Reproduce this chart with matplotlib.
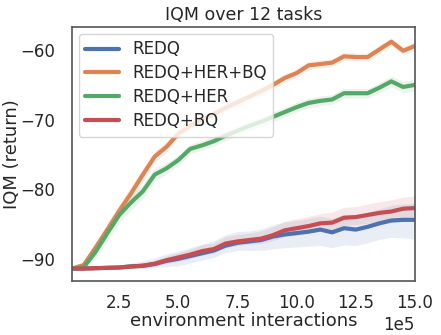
import numpy as np
import matplotlib
matplotlib.use("Agg")
import matplotlib.pyplot as plt
import matplotlib.ticker as mticker
import seaborn as sns

sns.set_theme(style="white")
plt.rcParams['font.family'] = ['DejaVu Sans']

steps = [0.5e5, 1.0e5, 1.5e5, 2.0e5, 2.5e5, 3.0e5, 3.5e5, 4.0e5, 4.5e5, 5.0e5,
         5.5e5, 6.0e5, 6.5e5, 7.0e5, 7.5e5, 8.0e5, 8.5e5, 9.0e5, 9.5e5, 10.0e5,
         10.5e5, 11.0e5, 11.5e5, 12.0e5, 12.5e5, 13.0e5, 13.5e5, 14.0e5, 14.5e5, 15.0e5]

labels = ["REDQ", "REDQ+HER+BQ", "REDQ+HER", "REDQ+BQ"]
colors = ["#4C72B0", "#DD8452", "#55A868", "#C44E52"]

redq = [-91.4, -91.4, -91.35, -91.3, -91.25, -91.1, -91.0, -90.75, -90.3, -90.0,
        -89.6, -89.2, -88.8, -88.1, -87.7, -87.5, -87.3, -86.8, -86.5, -86.3,
        -86.1, -85.8, -86.2, -85.6, -85.8, -85.4, -84.9, -84.5, -84.4, -84.4]
redq_her_bq = [-91.4, -90.9, -88.4, -85.8, -83.1, -80.6, -77.9, -75.3, -73.9, -72.0,
               -70.9, -70.0, -69.2, -68.3, -67.5, -66.7, -65.9, -65.0, -64.0, -63.3,
               -62.2, -62.0, -61.8, -60.9, -61.0, -61.0, -59.9, -58.8, -60.1, -59.4]
redq_her = [-91.4, -91.2, -89.0, -86.3, -83.7, -81.9, -80.3, -77.9, -77.0, -75.8,
            -74.2, -73.7, -73.1, -72.3, -71.6, -70.9, -70.3, -69.6, -68.9, -68.2,
            -67.6, -67.3, -67.1, -66.2, -66.2, -66.2, -65.4, -64.5, -65.3, -65.0]
redq_bq = [-91.4, -91.4, -91.35, -91.3, -91.25, -91.1, -91.0, -90.7, -90.2, -89.8,
           -89.4, -88.9, -88.6, -87.8, -87.5, -87.3, -87.1, -86.6, -85.9, -85.6,
           -85.3, -84.9, -84.8, -84.1, -84.0, -83.7, -83.4, -83.2, -82.8, -82.7]

# confidence band gaps below / above each curve
redq_lo = [0.1, 0.1, 0.1, 0.15, 0.2, 0.3, 0.4, 0.5, 0.8, 1.0,
           1.0, 1.0, 1.0, 1.0, 1.1, 1.3, 1.5, 1.8, 1.9, 2.0,
           2.1, 2.3, 2.2, 2.4, 2.3, 2.3, 2.3, 2.4, 2.6, 2.8]
redq_hi = [0.1, 0.1, 0.1, 0.15, 0.3, 0.5, 0.7, 0.9, 1.0, 1.1,
           1.2, 1.3, 1.4, 1.6, 1.6, 1.5, 1.6, 1.7, 1.8, 1.8,
           1.9, 1.9, 2.0, 2.0, 2.1, 2.1, 2.1, 2.2, 2.3, 2.4]
redq_her_bq_ci = [0.2, 0.4, 0.8, 1.0, 1.0, 1.0, 0.9, 0.8, 0.7, 0.6,
                  0.6, 0.6, 0.6, 0.6, 0.6, 0.6, 0.6, 0.6, 0.6, 0.6,
                  0.6, 0.6, 0.6, 0.6, 0.6, 0.6, 0.6, 0.6, 0.6, 0.6]
redq_her_ci = [0.2, 0.4, 0.9, 1.1, 1.1, 1.1, 1.0, 0.9, 0.8, 0.7,
               0.7, 0.7, 0.7, 0.7, 0.7, 0.7, 0.7, 0.7, 0.7, 0.7,
               0.7, 0.7, 0.7, 0.7, 0.7, 0.7, 0.7, 0.8, 0.8, 0.8]
redq_bq_lo = [0.1, 0.1, 0.1, 0.1, 0.15, 0.2, 0.3, 0.4, 0.5, 0.6,
              0.6, 0.6, 0.6, 0.6, 0.6, 0.6, 0.7, 0.8, 0.9, 1.0,
              1.0, 1.0, 1.1, 1.1, 1.1, 1.2, 1.2, 1.2, 1.3, 1.3]
redq_bq_hi = [0.1, 0.1, 0.1, 0.15, 0.2, 0.3, 0.4, 0.5, 0.6, 0.7,
              0.8, 0.9, 0.9, 1.0, 1.0, 1.0, 1.1, 1.2, 1.3, 1.4,
              1.4, 1.4, 1.5, 1.5, 1.5, 1.6, 1.6, 1.7, 1.7, 1.7]

series = [
    (redq, redq_lo, redq_hi),
    (redq_her_bq, redq_her_bq_ci, redq_her_bq_ci),
    (redq_her, redq_her_ci, redq_her_ci),
    (redq_bq, redq_bq_lo, redq_bq_hi),
]


class FixedOrderFormatter(mticker.ScalarFormatter):
    def __init__(self, order):
        self._order = order
        super().__init__(useMathText=False)

    def _set_order_of_magnitude(self):
        self.orderOfMagnitude = self._order

    def _set_format(self):
        self.format = "%1.1f"


fig = plt.figure(figsize=(4.41, 3.35), dpi=100)
ax = fig.add_axes([0.163, 0.161, 0.778, 0.758])

x = np.array(steps)
for (y, lo, hi), lab, col in zip(series, labels, colors):
    y = np.array(y)
    ax.fill_between(x, y - np.array(lo), y + np.array(hi), color=col, alpha=0.12, linewidth=0)
    ax.plot(x, y, color=col, lw=3, label=lab)

ax.set_xlim(0.5e5, 15.0e5)
ax.set_ylim(-93.2, -56.7)
ax.set_xticks([2.5e5, 5.0e5, 7.5e5, 10.0e5, 12.5e5, 15.0e5])
ax.xaxis.set_major_formatter(FixedOrderFormatter(5))
ax.set_yticks([-90, -80, -70, -60])
ax.tick_params(labelsize=12, colors="#262626")
ax.tick_params(axis="x", pad=3)
ax.tick_params(axis="y", pad=6)
ax.xaxis.get_offset_text().set_fontsize(12)
for s in ax.spines.values():
    s.set_color("#555555")
    s.set_linewidth(1.2)

ax.set_title("IQM over 12 tasks", fontsize=12.5, pad=5)
ax.set_xlabel("environment interactions", fontsize=13, labelpad=0)
ax.set_ylabel("IQM (return)", fontsize=13)
ax.yaxis.set_label_coords(-0.148, 0.5)

leg = ax.legend(loc="upper left", fontsize=12, handlelength=2.0, borderaxespad=0.4,
                labelspacing=0.35, handletextpad=0.8)

fig.savefig("out.png", dpi=100)
